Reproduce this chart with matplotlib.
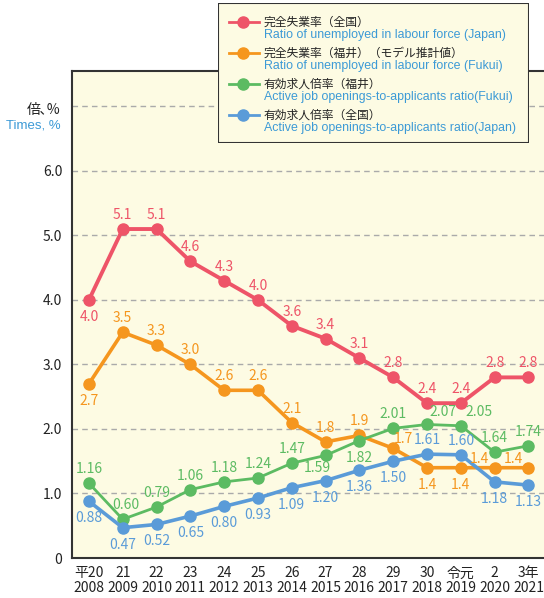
import matplotlib.pyplot as plt
from matplotlib.patches import Rectangle

plt.rcParams['font.family'] = ['Noto Sans CJK JP', 'DejaVu Sans']

# --- data ---
years_jp = ['平20', '21', '22', '23', '24', '25', '26', '27', '28', '29', '30', '令元', '2', '3年']
years_ad = ['2008', '2009', '2010', '2011', '2012', '2013', '2014', '2015', '2016', '2017',
            '2018', '2019', '2020', '2021']

unemp_japan = [4.0, 5.1, 5.1, 4.6, 4.3, 4.0, 3.6, 3.4, 3.1, 2.8, 2.4, 2.4, 2.8, 2.8]
unemp_fukui = [2.7, 3.5, 3.3, 3.0, 2.6, 2.6, 2.1, 1.8, 1.9, 1.7, 1.4, 1.4, 1.4, 1.4]
jobs_fukui = [1.16, 0.60, 0.79, 1.06, 1.18, 1.24, 1.47, 1.59, 1.82, 2.01, 2.07, 2.05, 1.64, 1.74]
jobs_japan = [0.88, 0.47, 0.52, 0.65, 0.80, 0.93, 1.09, 1.20, 1.36, 1.50, 1.61, 1.60, 1.18, 1.13]

# label placement: 'a' above, 'b' below; special offsets (pixels) override
pos_unemp_japan = 'baaaaaaaaaaaaa'
pos_unemp_fukui = 'baaaaaaaaabbaa'
pos_jobs_fukui = 'aaaaaaabbaaaaa'
pos_jobs_japan = 'bbbbbbbbbbaabb'

special_unemp_fukui = {9: (10, 9), 12: (-15, 9), 13: (-15, 9)}
special_jobs_fukui = {1: (3, 14), 7: (-8, -13), 10: (16, 12), 11: (18, 14)}

RED = '#EE5468'
ORANGE = '#F5961E'
GREEN = '#5CBB62'
BLUE = '#5A9BD8'
BG = '#FDFBE3'
EN_BLUE = '#3C9AD6'

fig = plt.figure(figsize=(5.44, 5.98), dpi=100)
ax = fig.add_axes([72 / 544, 40 / 598, 1 - 72 / 544, 487 / 598])
ax.set_facecolor(BG)

x = list(range(len(years_jp)))

series = [
    (unemp_japan, RED, 2.8, pos_unemp_japan, '{:.1f}', {}),
    (unemp_fukui, ORANGE, 2.6, pos_unemp_fukui, '{:.1f}', special_unemp_fukui),
    (jobs_fukui, GREEN, 2.0, pos_jobs_fukui, '{:.2f}', special_jobs_fukui),
    (jobs_japan, BLUE, 2.6, pos_jobs_japan, '{:.2f}', {}),
]

for vals, color, lw, pos, fmt, special in series:
    ax.plot(x, vals, color=color, lw=lw, marker='o', markersize=8, zorder=3)
    for i, (xi, v, p) in enumerate(zip(x, vals, pos)):
        if i in special:
            dx, dy = special[i]
        elif p == 'a':
            dx, dy = 0, 14
        else:
            dx, dy = 0, -17
        ax.annotate(fmt.format(v), (xi, v), xytext=(dx, dy), textcoords='offset pixels',
                    ha='center', va='center', fontsize=10, color=color, zorder=4)

ax.set_xlim(-0.5, 13.46)
ax.set_ylim(0, 7.55)
ax.set_yticks([0, 1, 2, 3, 4, 5, 6])
ax.set_yticklabels(['0', '1.0', '2.0', '3.0', '4.0', '5.0', '6.0'], fontsize=10, color='#222222')
ax.set_xticks(x)
ax.set_xticklabels([f'{a}\n{b}' for a, b in zip(years_jp, years_ad)], fontsize=10,
                   color='#222222', linespacing=1.1)
ax.tick_params(axis='x', length=0, pad=6)
ax.tick_params(axis='y', length=0, pad=7)

for gy in range(1, 8):
    ax.axhline(gy, color='#AAAAAA', lw=1, ls=(0, (4, 3)), zorder=1)

for side in ['left', 'bottom', 'top']:
    ax.spines[side].set_color('#333333')
    ax.spines[side].set_linewidth(1.5)
ax.spines['right'].set_visible(False)

ax.text(-0.85, 6.95, '倍､%', ha='right', va='center', fontsize=10, color='#222222')
ax.text(-0.85, 6.71, 'Times, %', ha='right', va='center', fontsize=9.5, color=EN_BLUE,
        family='Liberation Sans')

# --- legend box ---
lg = fig.add_axes([218 / 544, 1 - 143 / 598, 311 / 544, 140 / 598])
lg.set_xlim(218, 529)
lg.set_ylim(143, 3)
lg.axis('off')
lg.add_patch(Rectangle((218, 3), 311, 140, facecolor=BG, edgecolor='#333333', lw=1.5))

legend_items = [
    (RED, '完全失業率（全国）', 'Ratio of unemployed in labour force (Japan)'),
    (ORANGE, '完全失業率（福井）（モデル推計値）', 'Ratio of unemployed in labour force (Fukui)'),
    (GREEN, '有効求人倍率（福井）', 'Active job openings-to-applicants ratio(Fukui)'),
    (BLUE, '有効求人倍率（全国）', 'Active job openings-to-applicants ratio(Japan)'),
]
for i, (color, jp, en) in enumerate(legend_items):
    y0 = 22 + i * 31
    lg.plot([229, 259], [y0, y0], color=color, lw=2)
    lg.plot([243], [y0], 'o', color=color, markersize=8)
    lg.text(264, y0, jp, ha='left', va='center', fontsize=8.5, color='#222222')
    lg.text(264, y0 + 13.5, en, ha='left', va='center', fontsize=8.9, color=EN_BLUE,
            family='Liberation Sans')

fig.savefig('out.png', dpi=100)
